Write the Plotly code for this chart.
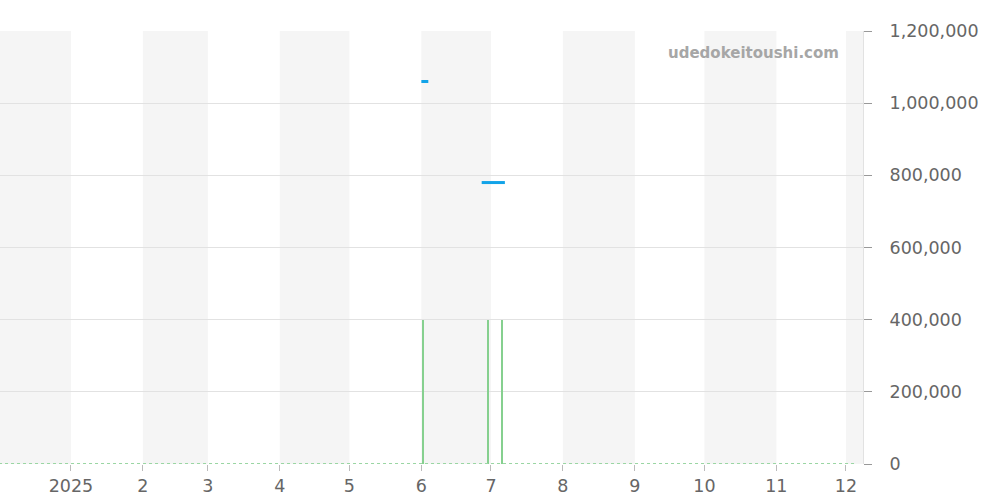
import plotly.graph_objects as go

# Price series (blue segments)
price_dates_1 = ["2025-06-01", "2025-06-04"]
price_values_1 = [1060000, 1060000]
price_dates_2 = ["2025-06-27", "2025-07-07"]
price_values_2 = [780000, 780000]

# Volume-like spikes (green)
spike_dates = ["2025-06-02", "2025-06-30", "2025-07-06"]
spike_values = [400000, 400000, 400000]

# Baseline (dotted green at zero)
baseline_dates = ["2024-12-01", "2025-12-05"]
baseline_values = [0, 0]

# Shaded months
band_starts = ["2024-11-01", "2025-02-01", "2025-04-01", "2025-06-01", "2025-08-01", "2025-10-01", "2025-12-01"]
band_ends = ["2025-01-01", "2025-03-01", "2025-05-01", "2025-07-01", "2025-09-01", "2025-11-01", "2026-01-01"]

tick_vals = ["2025-01-01", "2025-02-01", "2025-03-01", "2025-04-01", "2025-05-01", "2025-06-01",
             "2025-07-01", "2025-08-01", "2025-09-01", "2025-10-01", "2025-11-01", "2025-12-01"]
tick_text = ["2025", "2", "3", "4", "5", "6", "7", "8", "9", "10", "11", "12"]

green = "#86d08f"
blue = "#12a3e8"

fig = go.Figure()
fig.add_trace(go.Scatter(x=baseline_dates, y=baseline_values, mode="lines", cliponaxis=False,
                         line=dict(color="#9ad6a3", width=2, dash="dot"), hoverinfo="skip"))
fig.add_trace(go.Bar(x=spike_dates, y=spike_values, width=0.6 * 86400000,
                     marker=dict(color=green, line=dict(width=0))))
fig.add_trace(go.Scatter(x=price_dates_1, y=price_values_1, mode="lines",
                         line=dict(color=blue, width=3)))
fig.add_trace(go.Scatter(x=price_dates_2, y=price_values_2, mode="lines",
                         line=dict(color=blue, width=3)))

shapes = []
for s, e in zip(band_starts, band_ends):
    shapes.append(dict(type="rect", xref="x", yref="paper", x0=s, x1=e, y0=0, y1=1,
                       fillcolor="#f5f5f5", line=dict(width=0), layer="below"))

fig.update_layout(
    width=1000, height=500,
    margin=dict(l=0, r=137, t=31, b=36),
    paper_bgcolor="white", plot_bgcolor="white",
    showlegend=False,
    shapes=shapes,
    font=dict(family="DejaVu Sans", size=17.5, color="#666666"),
    bargap=0,
    xaxis=dict(type="date", range=["2024-12-01 10:00", "2025-12-08 08:00"],
               tickvals=tick_vals, ticktext=tick_text, showgrid=False,
               ticks="outside", ticklen=6, tickcolor="#bbbbbb", zeroline=False,
               showline=False),
    yaxis=dict(side="right", range=[0, 1200000], dtick=200000, tickformat=",",
               showgrid=True, gridcolor="#e2e2e2", gridwidth=1,
               ticks="outside", ticklen=8, tickcolor="#999999",
               ticklabelstandoff=14,
               showline=True, linecolor="#e2e2e2", zeroline=False,
               mirror=False),
    annotations=[dict(text="<b>udedokeitoushi.com</b>", xref="paper", yref="paper",
                      x=0.975, y=0.975, xanchor="right", yanchor="top", showarrow=False,
                      font=dict(family="DejaVu Sans", size=15, color="#a6a6a6"))],
)

fig.write_html("out.html", config={"displayModeBar": False},
               post_script="document.body.style.margin='0';document.body.style.overflow='hidden';")
